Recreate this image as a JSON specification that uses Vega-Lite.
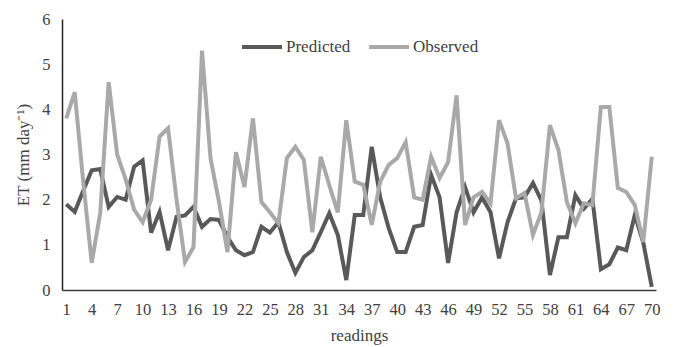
{
  "$schema": "https://vega.github.io/schema/vega-lite/v6.json",
  "width": 594,
  "height": 271,
  "autosize": {"type": "none"},
  "padding": {"left": 62, "top": 19, "right": 20, "bottom": 57},
  "background": "white",
  "config": {
    "view": {"stroke": null},
    "font": "Liberation Serif",
    "axis": {"labelFont": "Liberation Serif", "titleFont": "Liberation Serif", "labelColor": "#404040", "titleColor": "#404040", "grid": false, "ticks": false, "labelFontSize": 16.5, "titleFontSize": 17, "titleFontWeight": "normal", "domainColor": "#404040", "domainWidth": 1.5},
    "legend": {"labelFont": "Liberation Serif", "labelFontSize": 17, "labelColor": "#404040"}
  },
  "data": {
    "values": [
      {"r":1,"Predicted":1.9,"Observed":3.8},
      {"r":2,"Predicted":1.73,"Observed":4.38},
      {"r":3,"Predicted":2.2,"Observed":2.4},
      {"r":4,"Predicted":2.65,"Observed":0.6},
      {"r":5,"Predicted":2.68,"Observed":1.7},
      {"r":6,"Predicted":1.84,"Observed":4.6},
      {"r":7,"Predicted":2.06,"Observed":3.0},
      {"r":8,"Predicted":2.0,"Observed":2.45},
      {"r":9,"Predicted":2.73,"Observed":1.78},
      {"r":10,"Predicted":2.87,"Observed":1.5},
      {"r":11,"Predicted":1.27,"Observed":2.0},
      {"r":12,"Predicted":1.73,"Observed":3.4},
      {"r":13,"Predicted":0.88,"Observed":3.58},
      {"r":14,"Predicted":1.62,"Observed":2.0},
      {"r":15,"Predicted":1.65,"Observed":0.62},
      {"r":16,"Predicted":1.84,"Observed":0.95},
      {"r":17,"Predicted":1.4,"Observed":5.3},
      {"r":18,"Predicted":1.57,"Observed":2.92},
      {"r":19,"Predicted":1.55,"Observed":1.95},
      {"r":20,"Predicted":1.17,"Observed":0.84},
      {"r":21,"Predicted":0.88,"Observed":3.05},
      {"r":22,"Predicted":0.77,"Observed":2.28},
      {"r":23,"Predicted":0.84,"Observed":3.8},
      {"r":24,"Predicted":1.4,"Observed":1.95},
      {"r":25,"Predicted":1.27,"Observed":1.72},
      {"r":26,"Predicted":1.5,"Observed":1.48},
      {"r":27,"Predicted":0.84,"Observed":2.92},
      {"r":28,"Predicted":0.38,"Observed":3.17},
      {"r":29,"Predicted":0.73,"Observed":2.88},
      {"r":30,"Predicted":0.88,"Observed":1.28},
      {"r":31,"Predicted":1.28,"Observed":2.95},
      {"r":32,"Predicted":1.7,"Observed":2.32},
      {"r":33,"Predicted":1.22,"Observed":1.72},
      {"r":34,"Predicted":0.22,"Observed":3.76},
      {"r":35,"Predicted":1.66,"Observed":2.4},
      {"r":36,"Predicted":1.66,"Observed":2.33},
      {"r":37,"Predicted":3.17,"Observed":1.44},
      {"r":38,"Predicted":2.05,"Observed":2.4},
      {"r":39,"Predicted":1.37,"Observed":2.77},
      {"r":40,"Predicted":0.84,"Observed":2.92},
      {"r":41,"Predicted":0.84,"Observed":3.27},
      {"r":42,"Predicted":1.4,"Observed":2.05},
      {"r":43,"Predicted":1.44,"Observed":2.0},
      {"r":44,"Predicted":2.55,"Observed":2.95},
      {"r":45,"Predicted":2.05,"Observed":2.48},
      {"r":46,"Predicted":0.6,"Observed":2.83},
      {"r":47,"Predicted":1.72,"Observed":4.31},
      {"r":48,"Predicted":2.28,"Observed":1.44},
      {"r":49,"Predicted":1.72,"Observed":2.05},
      {"r":50,"Predicted":2.05,"Observed":2.17},
      {"r":51,"Predicted":1.72,"Observed":1.92},
      {"r":52,"Predicted":0.7,"Observed":3.76},
      {"r":53,"Predicted":1.5,"Observed":3.25},
      {"r":54,"Predicted":2.03,"Observed":2.03},
      {"r":55,"Predicted":2.05,"Observed":2.15},
      {"r":56,"Predicted":2.37,"Observed":1.22},
      {"r":57,"Predicted":1.98,"Observed":1.72},
      {"r":58,"Predicted":0.33,"Observed":3.65},
      {"r":59,"Predicted":1.17,"Observed":3.1},
      {"r":60,"Predicted":1.17,"Observed":1.95},
      {"r":61,"Predicted":2.1,"Observed":1.48},
      {"r":62,"Predicted":1.8,"Observed":1.92},
      {"r":63,"Predicted":2.02,"Observed":1.88},
      {"r":64,"Predicted":0.46,"Observed":4.05},
      {"r":65,"Predicted":0.57,"Observed":4.05},
      {"r":66,"Predicted":0.94,"Observed":2.26},
      {"r":67,"Predicted":0.88,"Observed":2.17},
      {"r":68,"Predicted":1.66,"Observed":1.88},
      {"r":69,"Predicted":1.05,"Observed":1.06},
      {"r":70,"Predicted":0.07,"Observed":2.95}
    ]
  },
  "transform": [{"fold": ["Predicted", "Observed"], "as": ["series", "value"]}],
  "mark": {"type": "line", "strokeWidth": 4, "strokeJoin": "miter"},
  "encoding": {
    "x": {
      "field": "r", "type": "quantitative",
      "scale": {"domain": [0.5, 70.5], "nice": false, "zero": false},
      "axis": {"title": "readings", "values": [1,4,7,10,13,16,19,22,25,28,31,34,37,40,43,46,49,52,55,58,61,64,67,70], "labelPadding": 11, "titlePadding": 10, "labelFlush": false}
    },
    "y": {
      "field": "value", "type": "quantitative",
      "scale": {"domain": [0, 6], "nice": false},
      "axis": {"title": "ET (mm day⁻¹)", "values": [0,1,2,3,4,5,6], "labelPadding": 12, "titlePadding": 9, "domainColor": "#222222"}
    },
    "color": {
      "field": "series", "type": "nominal",
      "scale": {"domain": ["Predicted", "Observed"], "range": ["#595959", "#a9a9a9"]},
      "legend": {"title": null, "orient": "none", "legendX": 178, "legendY": 6, "direction": "horizontal", "symbolType": "stroke", "symbolSize": 1600, "symbolStrokeWidth": 4, "columnPadding": 10, "labelOffset": 2}
    },
    "order": {"field": "r", "type": "quantitative"}
  }
}
